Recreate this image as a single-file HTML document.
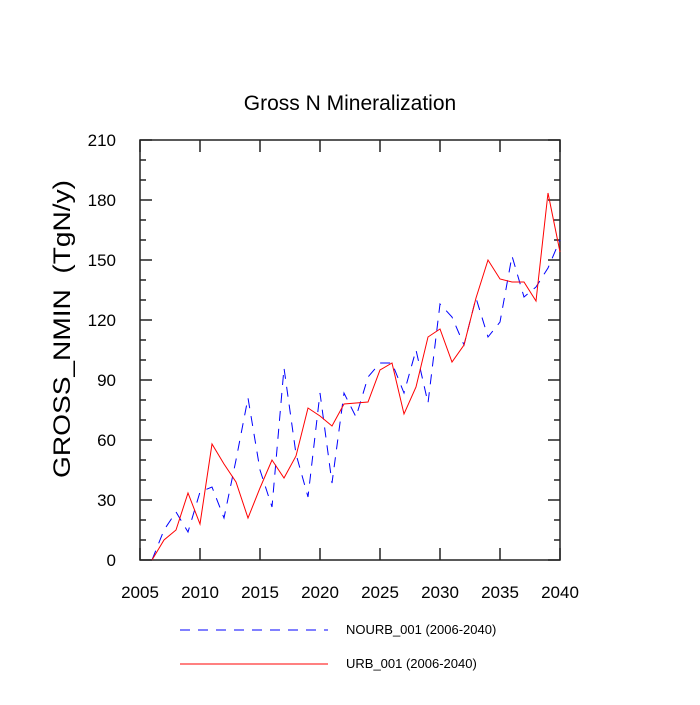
<!DOCTYPE html>
<html><head><meta charset="utf-8"><style>
body{margin:0;background:#fff}
svg text{font-family:"Liberation Sans",sans-serif}
</style></head><body>
<svg id="chart" width="700" height="700" xmlns="http://www.w3.org/2000/svg">
<rect width="700" height="700" fill="#fff"/>
<text x="350" y="110" font-size="21" text-anchor="middle">Gross N Mineralization</text>
<text transform="translate(70,329) rotate(-90)" font-size="24" text-anchor="middle" textLength="298" lengthAdjust="spacingAndGlyphs" xml:space="preserve">GROSS_NMIN  (TgN/y)</text>
<g id="axes"></g>
<g id="series"></g>
<g>
<line x1="180" y1="630" x2="328" y2="630" stroke="#00f" stroke-width="1" stroke-dasharray="10,8"/>
<text x="346" y="634" font-size="13">NOURB_001 (2006-2040)</text>
<line x1="180" y1="664" x2="328" y2="664" stroke="#f00" stroke-width="1"/>
<text x="346" y="668" font-size="13">URB_001 (2006-2040)</text>
</g>
</svg>
<script>
const years=[2006,2007,2008,2009,2010,2011,2012,2013,2014,2015,2016,2017,2018,2019,2020,2021,2022,2023,2024,2025,2026,2027,2028,2029,2030,2031,2032,2033,2034,2035,2036,2037,2038,2039,2040];
const urb=[0,10,15,33.5,18,58,48,39,21,36,50,41,52,76,72,67,78,78.5,79,95,98.5,73,86.5,111.5,115.5,99,107.5,131,150,140.5,139,139,129.5,183.5,154];
const nourb=[0,15,24,14,34,36.5,21,50,81,45,26.5,96,53,31.5,83.5,38.5,83.5,71.5,91.5,98.5,98.5,83.5,105,78.5,128,121.5,107.5,131,111.5,119,152,131.5,136.5,146,160];
const xTicks=[2005,2010,2015,2020,2025,2030,2035,2040];
const yTicks=[0,30,60,90,120,150,180,210];
const X0=140,X1=560,Y0=560,Y1=140;
const xs=v=>X0+(v-2005)/(2040-2005)*(X1-X0);
const ys=v=>Y0-(v-0)/(210-0)*(Y0-Y1);
const NS="http://www.w3.org/2000/svg";
const ax=document.getElementById('axes');
function mk(tag,attrs,parent){const e=document.createElementNS(NS,tag);for(const k in attrs)e.setAttribute(k,attrs[k]);parent.appendChild(e);return e;}
let fr=mk('rect',{x:X0,y:Y1,width:X1-X0,height:Y0-Y1,fill:'none',stroke:'#222','stroke-width':1.5},ax);


xTicks.forEach(t=>{
 const x=xs(t);
 mk('line',{x1:x,y1:Y0,x2:x,y2:Y0-12,stroke:'#222','stroke-width':1.5},ax);
 mk('line',{x1:x,y1:Y1,x2:x,y2:Y1+12,stroke:'#222','stroke-width':1.5},ax);
 const tx=mk('text',{x:x,y:Y0+38,'font-size':17,'text-anchor':'middle'},ax);
 tx.textContent=t;
 
 
});
for(let v=0;v<=210;v+=10){
 const y=ys(v),L=(v%30===0)?12:6;
 mk('line',{x1:X0,y1:y,x2:X0+L,y2:y,stroke:'#222','stroke-width':1.5},ax);
 mk('line',{x1:X1,y1:y,x2:X1-L,y2:y,stroke:'#222','stroke-width':1.5},ax);
}
yTicks.forEach(t=>{
 const tx=mk('text',{x:X0-24,y:ys(t)+6,'font-size':17,'text-anchor':'end'},ax);
 tx.textContent=t;
 
 
});
const sg=document.getElementById('series');
function pts(a){return years.map((y,i)=>xs(y)+','+ys(a[i])).join(' ');}
const l1=mk('polyline',{points:pts(nourb),fill:'none',stroke:'#00f','stroke-width':1,'stroke-dasharray':'10,8'},sg);


const l2=mk('polyline',{points:pts(urb),fill:'none',stroke:'#f00','stroke-width':1},sg);


</script>
</body></html>
